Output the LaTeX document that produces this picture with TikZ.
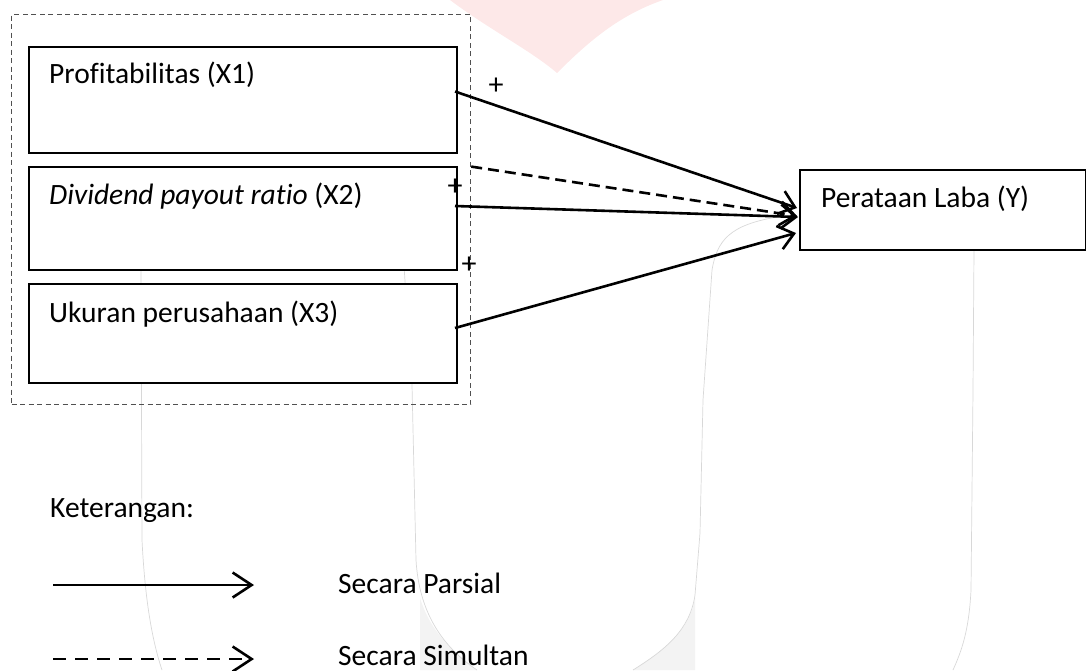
\documentclass[tikz,border=0pt]{standalone}
\usepackage{fontspec}
\setmainfont{Carlito}[Ligatures=NoCommon]
\usetikzlibrary{arrows.meta,calc}
\definecolor{wmgray}{HTML}{D8D8D8}
\definecolor{wmfill}{HTML}{F3F3F3}
\definecolor{wmpink}{HTML}{FDE8E8}
\definecolor{framegray}{HTML}{505050}
\begin{document}
\begin{tikzpicture}[x=1pt,y=-1pt,
  box/.style={draw=black,line width=2pt,fill=white,inner sep=0pt,anchor=north west},
  frame/.style={draw=framegray,line width=1.2pt,dash pattern=on 5pt off 3.5pt,inner sep=0pt,anchor=north west},
  lbl/.style={anchor=base west,inner sep=0pt,font=\fontsize{29.5}{35}\selectfont},
  plus/.style={inner sep=0pt,font=\fontsize{30}{34}\selectfont},
  conn/.style={line width=2.6pt,-{Straight Barb[length=15pt,width=24pt,line width=2.6pt]}},
  simconn/.style={conn,dash pattern=on 11pt off 6pt},
  legconn/.style={line width=2.6pt,-{Straight Barb[length=19pt,width=25pt,line width=2.6pt]}},
  legsim/.style={legconn,dash pattern=on 13pt off 9pt},
  wm/.style={draw=wmgray,line width=0.7pt}
]
\useasboundingbox (0,0) rectangle (1086,670);
% watermark
\fill[wmpink] (450,0) .. controls (490,30) and (530,50) .. (557,73) .. controls (590,40) and (620,15) .. (663,0) -- cycle;
\fill[wmfill] (420,598) .. controls (430,630) and (450,650) .. (477,670) -- (420,670) -- cycle;
\fill[wmfill] (695,598) .. controls (690,630) and (665,650) .. (633,670) -- (695,670) -- cycle;
\draw[wm] (141,266) -- (142,540) .. controls (145,600) and (152,640) .. (162,670);
\draw[wm] (404,266) -- (412,385) -- (416,560) .. controls (419,610) and (440,645) .. (477,670);
\draw[wm] (777,217) .. controls (730,225) and (717,240) .. (712,270) -- (703,400) -- (700,533) -- (695,595) .. controls (690,630) and (665,650) .. (633,670);
\draw[wm] (974,249) -- (973,390) -- (971,590) .. controls (969,630) and (962,650) .. (953,670);
% frame and boxes
\node[frame,minimum width=459pt,minimum height=390pt] (frm) at (11,14) {};
\node[box,minimum width=428pt,minimum height=106pt] (x1) at (28,46) {};
\node[box,minimum width=428pt,minimum height=103pt] (x2) at (28,166) {};
\node[box,minimum width=428pt,minimum height=99pt] (x3) at (28,283) {};
\node[box,minimum width=286pt,minimum height=80pt] (y) at (799,169) {};
\node[lbl] (x1t) at (49,83) {Profitabilitas (X1)};
\node[lbl] (x2t) at (49,204) {\textit{Dividend payout ratio} (X2)};
\node[lbl] (x3t) at (49,322) {Ukuran perusahaan (X3)};
\node[lbl] (yt) at (821,207) {Perataan Laba (Y)};
% connectors
\draw[conn] ([xshift=-3pt,yshift=8.5pt]x1.east) -- ([xshift=-2pt,yshift=2pt]y.west);
\draw[conn] ([xshift=-3pt,yshift=12.5pt]x2.east) -- ([xshift=-1pt,yshift=-7pt]y.west);
\draw[conn] ([xshift=-3pt,yshift=5.5pt]x3.east) -- ([xshift=-3pt,yshift=-23pt]y.west);
\draw[simconn] ([yshift=43pt]frm.east) -- ([xshift=-2pt,yshift=-6pt]y.west);
\node[plus] (p1) at (496,86) {+};
\node[plus] (p2) at (455,187) {+};
\node[plus] (p3) at (469,265) {+};
% legend
\node[lbl] (ket) at (50,517) {Keterangan:};
\coordinate (ls1) at (53,585);
\coordinate (ls2) at (254,585);
\coordinate (ld1) at (53,659);
\coordinate (ld2) at (254,659);
\draw[legconn] (ls1) -- (ls2);
\draw[legsim] (ld1) -- (ld2);
\node[lbl] (par) at (338,593) {Secara Parsial};
\node[lbl] (sim) at (338,665) {Secara Simultan};
\end{tikzpicture}
\end{document}
